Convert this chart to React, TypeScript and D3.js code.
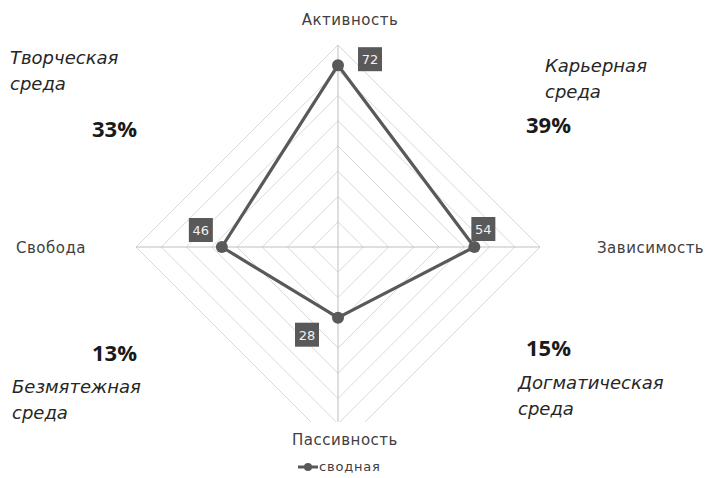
import React from "react";
import * as d3 from "d3";

const axes = ["Активность", "Зависимость", "Пассивность", "Свобода"];
const values = [72, 54, 28, 46];
const seriesName = "сводная";
const maxValue = 80;
const ringStep = 10;
const quadrantNames = [
  ["Творческая", "среда"],
  ["Карьерная", "среда"],
  ["Безмятежная", "среда"],
  ["Догматическая", "среда"],
];
const quadrantShares = ["33%", "39%", "13%", "15%"];

const W = 706;
const H = 478;
const cx = 338;
const cy = 247;
const R = 202;

// layout for labels
const labelOffsets = [
  [32, -6],
  [9, -18],
  [-31, 17],
  [-21, -17],
];
const axisLabelPos = [
  { x: 350, y: 25, anchor: "middle" },
  { x: 597, y: 253, anchor: "start" },
  { x: 345, y: 445, anchor: "middle" },
  { x: 16, y: 253, anchor: "start" },
];
const quadLayout = [
  { nameX: 10, nameY: 64, shareX: 92, shareY: 137 },
  { nameX: 545, nameY: 72, shareX: 526, shareY: 133 },
  { nameX: 12, nameY: 393, shareX: 92, shareY: 361 },
  { nameX: 518, nameY: 389, shareX: 526, shareY: 356 },
];

export default function App() {
  const r = d3.scaleLinear().domain([0, maxValue]).range([0, R]);
  const angle = (i: number) => (i * 2 * Math.PI) / axes.length;
  const pt = (i: number, v: number): [number, number] => [
    cx + r(v) * Math.sin(angle(i)),
    cy - r(v) * Math.cos(angle(i)),
  ];
  const rings = d3.range(ringStep, maxValue + 1, ringStep);
  const lineGen = d3.line<[number, number]>().curve(d3.curveLinearClosed);
  const points = values.map((v, i) => pt(i, v));
  const font = "'DejaVu Sans', 'Open Sans', sans-serif";
  const boldFont = "'Open Sans', 'DejaVu Sans', sans-serif";
  const dark = "#595959";

  return (
    <svg width={W} height={H} style={{ position: "absolute", left: 0, top: 0, background: "#fff" }}>
      <rect x={0} y={0} width={W} height={H} fill="#fff" />
      {rings.map((rv) => (
        <path
          key={rv}
          d={lineGen(axes.map((_, i) => pt(i, rv))) || ""}
          fill="none"
          stroke="#d9d9d9"
          strokeWidth={1}
        />
      ))}
      {axes.map((_, i) => {
        const [x, y] = pt(i, maxValue);
        return <line key={i} x1={cx} y1={cy} x2={x} y2={y} stroke="#bfbfbf" strokeWidth={1} />;
      })}
      <rect x={285} y={422} width={120} height={56} fill="#fff" />
      <path d={lineGen(points) || ""} fill="none" stroke={dark} strokeWidth={3.2} strokeLinejoin="round" />
      {points.map(([x, y], i) => (
        <circle key={i} cx={x} cy={y} r={6} fill={dark} />
      ))}
      {points.map(([x, y], i) => {
        const lx = x + labelOffsets[i][0];
        const ly = y + labelOffsets[i][1];
        return (
          <g key={"l" + i}>
            <rect x={lx - 12} y={ly - 12} width={24} height={24} fill={dark} />
            <text x={lx} y={ly + 5} textAnchor="middle" fontFamily={font} fontSize={13} fill="#f2f2f2">
              {values[i]}
            </text>
          </g>
        );
      })}
      {axes.map((a, i) => (
        <text
          key={a}
          x={axisLabelPos[i].x}
          y={axisLabelPos[i].y}
          textAnchor={axisLabelPos[i].anchor as any}
          fontFamily={font}
          fontSize={15}
          letterSpacing={0.5}
          fill="#404040"
        >
          {a}
        </text>
      ))}
      {quadrantNames.map((lines, q) => (
        <g key={q}>
          {lines.map((t, k) => (
            <text
              key={k}
              x={quadLayout[q].nameX}
              y={quadLayout[q].nameY + k * 26}
              fontFamily={font}
              fontStyle="italic"
              fontSize={18}
              fill="#262626"
            >
              {t}
            </text>
          ))}
          <text
            x={quadLayout[q].shareX}
            y={quadLayout[q].shareY}
            fontFamily={boldFont}
            fontWeight="bold"
            fontSize={22}
            fill="#1a1a1a"
          >
            {quadrantShares[q]}
          </text>
        </g>
      ))}
      <g>
        <line x1={298} y1={467} x2={318} y2={467} stroke={dark} strokeWidth={3} />
        <circle cx={308} cy={467} r={4} fill={dark} />
        <text x={319} y={471} fontFamily={font} fontSize={13} letterSpacing={0.8} fill="#404040">
          {seriesName}
        </text>
      </g>
    </svg>
  );
}
